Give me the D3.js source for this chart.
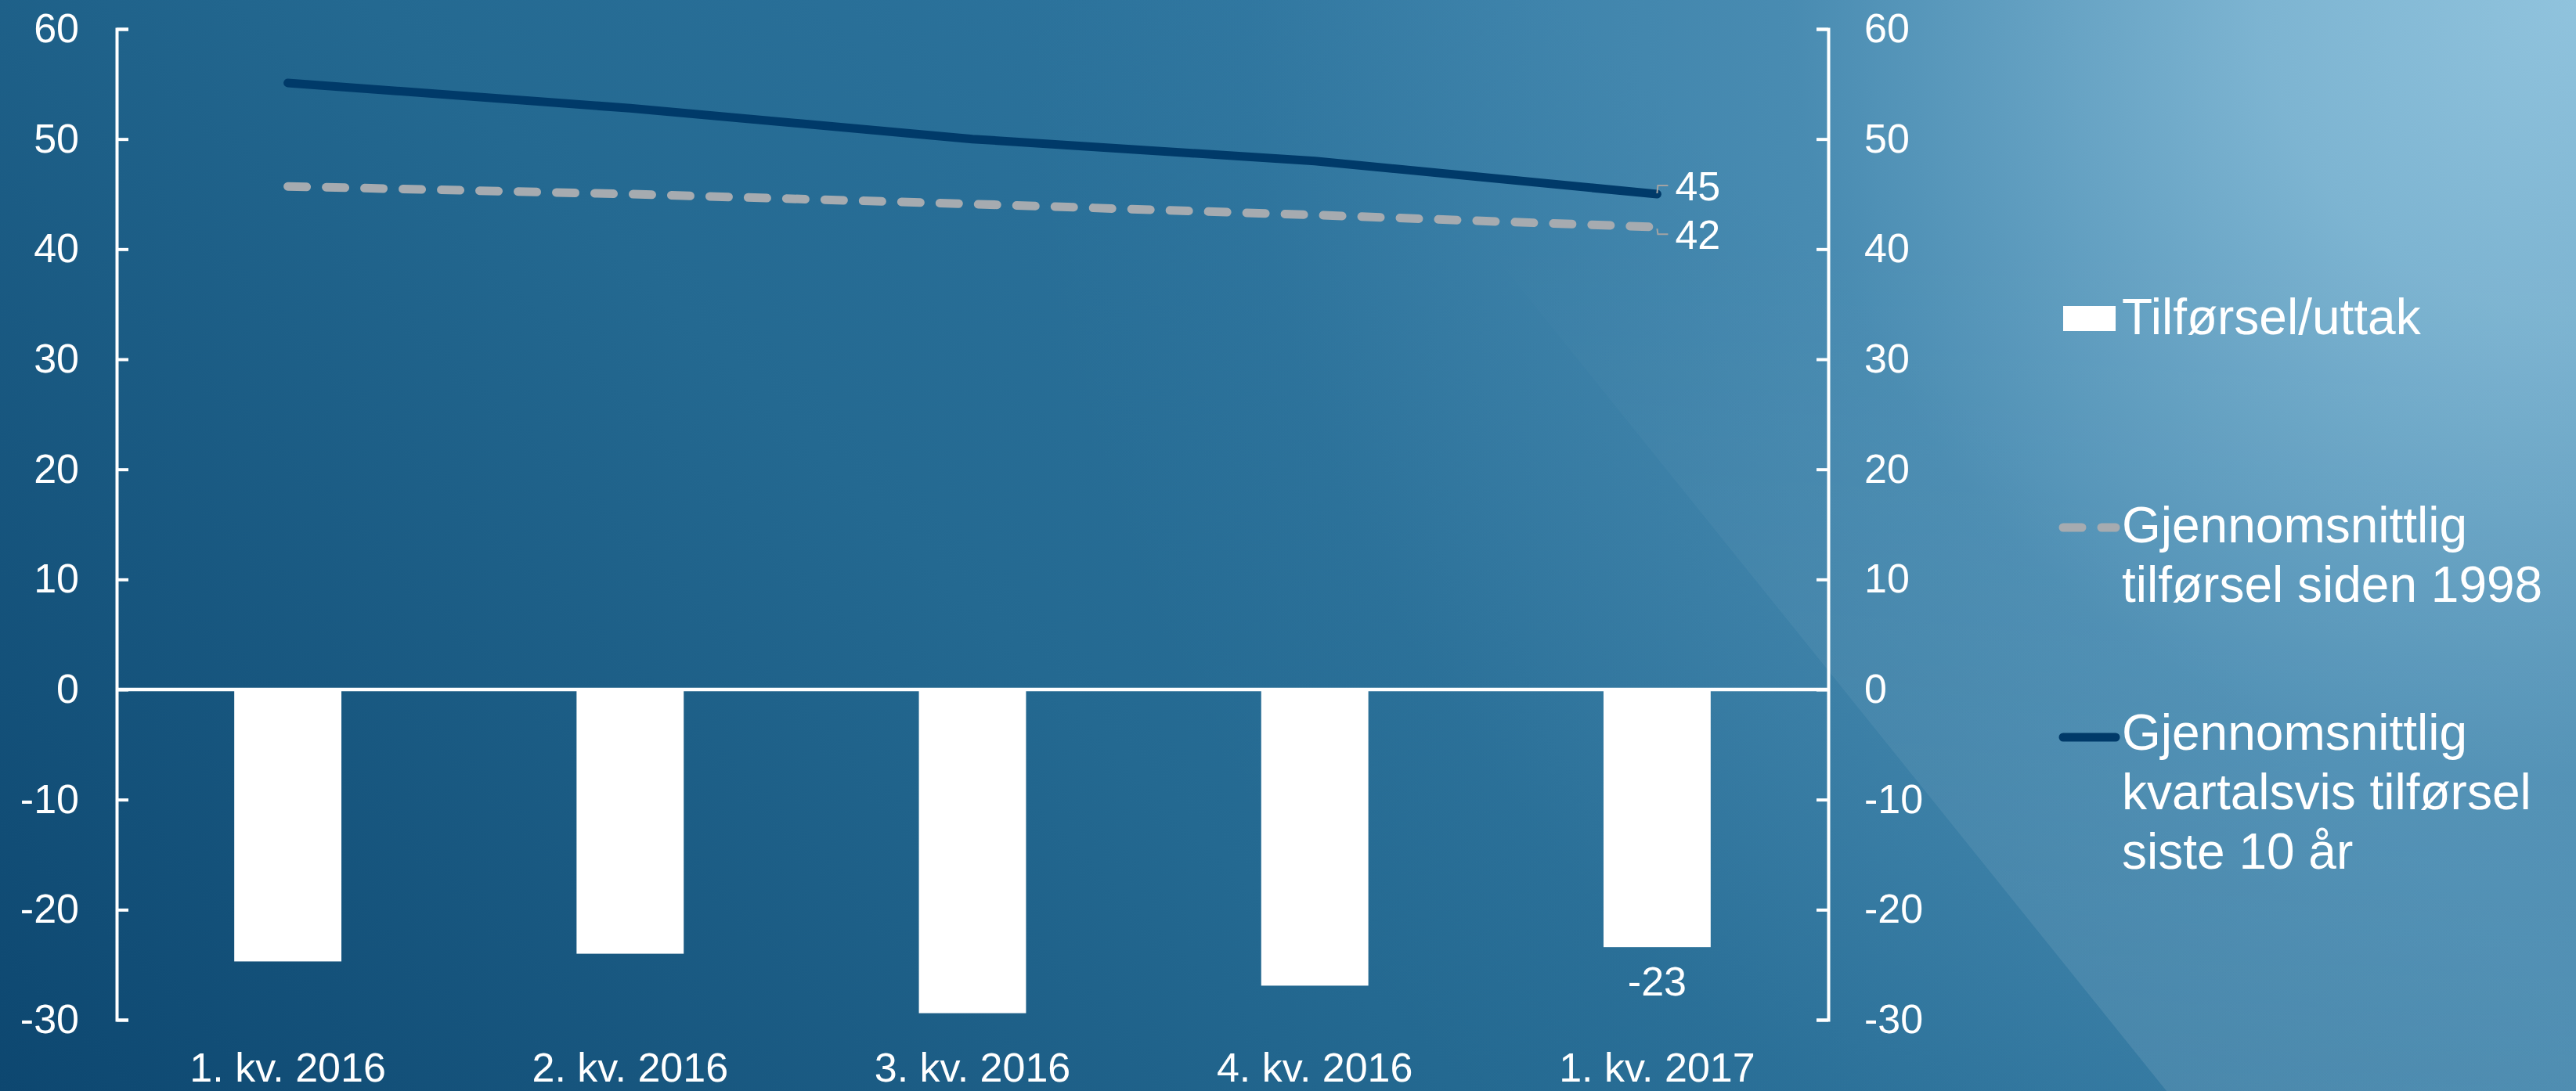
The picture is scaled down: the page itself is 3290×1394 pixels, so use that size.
<!DOCTYPE html>
<html>
<head>
<meta charset="utf-8">
<script src="https://cdn.jsdelivr.net/npm/d3@7"></script>
<style>
  html, body { margin: 0; padding: 0; overflow: hidden; }
  svg { display: block; }
</style>
</head>
<body>
<div id="chart"></div>
<script>
// values
const quarters = ["1. kv. 2016", "2. kv. 2016", "3. kv. 2016", "4. kv. 2016", "1. kv. 2017"];
const flow = [-24.7, -24.0, -29.4, -26.9, -23.4];
const avgSince1998 = [45.7, 45.0, 44.1, 43.1, 42.0];
const avgLast10y = [55.1, 52.8, 50.0, 48.0, 45.0];
const yTicks = [-30, -20, -10, 0, 10, 20, 30, 40, 50, 60];
const legendLabels = [
  ["Tilførsel/uttak"],
  ["Gjennomsnittlig", "tilførsel siden 1998"],
  ["Gjennomsnittlig", "kvartalsvis tilførsel", "siste 10 år"]
];

const width = 3290, height = 1394;
const plot = {left: 149, right: 2335, top: 37, bottom: 1303};
const font = "'Liberation Sans', Arial, sans-serif";
const darkBlue = "#003a69";
const grey = "#a6abb0";

// plain hyphen for negatives, like the original
const fmt = d => String(Math.round(d));

const svg = d3.select("#chart").append("svg")
    .attr("width", width)
    .attr("height", height);

// background
const defs = svg.append("defs");

const base = defs.append("linearGradient")
    .attr("id", "bg")
    .attr("gradientUnits", "userSpaceOnUse")
    .attr("x1", 150).attr("y1", 1550)
    .attr("x2", 1850).attr("y2", -150);
base.append("stop").attr("offset", 0).attr("stop-color", "#0d4770");
base.append("stop").attr("offset", 0.55).attr("stop-color", "#246991");
base.append("stop").attr("offset", 1).attr("stop-color", "#3179a3");

const glow = defs.append("radialGradient")
    .attr("id", "glow")
    .attr("gradientUnits", "userSpaceOnUse")
    .attr("cx", width).attr("cy", 0).attr("r", 2000);
[[0, 1], [0.2, 0.8], [0.5, 0.25], [0.85, 0.03], [1, 0]].forEach(([o, a]) =>
  glow.append("stop").attr("offset", o).attr("stop-color", "#90c3dd").attr("stop-opacity", a));

const sheen = defs.append("linearGradient")
    .attr("id", "sheen")
    .attr("gradientUnits", "userSpaceOnUse")
    .attr("x1", 0).attr("y1", 300)
    .attr("x2", 0).attr("y2", height);
sheen.append("stop").attr("offset", 0).attr("stop-color", "#fff").attr("stop-opacity", 0);
sheen.append("stop").attr("offset", 1).attr("stop-color", "#fff").attr("stop-opacity", 0.1);

svg.append("rect").attr("width", width).attr("height", height).attr("fill", "url(#bg)");
svg.append("rect").attr("width", width).attr("height", height).attr("fill", "url(#glow)");
svg.append("polygon")
    .attr("points", [[1646, 0], [width, 0], [width, height], [2767, height]].join(" "))
    .attr("fill", "url(#sheen)");

// scales
const x = d3.scaleBand()
    .domain(quarters)
    .range([plot.left, plot.right])
    .paddingInner(0.687)
    .paddingOuter(0.3435);

const y = d3.scaleLinear()
    .domain([-30, 60])
    .range([plot.bottom, plot.top]);

const cx = q => x(q) + x.bandwidth() / 2;

// axes
function styleAxis(g) {
  g.attr("color", "#fff")
    .attr("font-size", 52)
    .attr("font-family", font);
  g.selectAll("path, line").attr("stroke-width", 4);
}

svg.append("g")
    .attr("transform", `translate(${plot.left},0)`)
    .call(d3.axisLeft(y).tickValues(yTicks).tickFormat(fmt).tickSize(-15).tickPadding(48))
    .call(styleAxis);

svg.append("g")
    .attr("transform", `translate(${plot.right},0)`)
    .call(d3.axisRight(y).tickValues(yTicks).tickFormat(fmt).tickSize(-15).tickPadding(46))
    .call(styleAxis);

svg.append("g")
    .attr("transform", `translate(0,${plot.bottom})`)
    .call(d3.axisBottom(x).tickSize(0).tickPadding(42))
    .call(styleAxis)
    .call(g => g.select(".domain").remove());

// bars
svg.append("g")
  .selectAll("rect")
  .data(flow)
  .join("rect")
    .attr("x", (d, i) => x(quarters[i]))
    .attr("y", d => y(Math.max(0, d)))
    .attr("width", x.bandwidth())
    .attr("height", d => Math.abs(y(d) - y(0)))
    .attr("fill", "#fff");

// zero line
svg.append("line")
    .attr("x1", plot.left).attr("x2", plot.right)
    .attr("y1", y(0)).attr("y2", y(0))
    .attr("stroke", "#fff")
    .attr("stroke-width", 4.5);

// lines
const line = d3.line()
    .x((d, i) => cx(quarters[i]))
    .y(d => y(d));

svg.append("path")
    .datum(avgSince1998)
    .attr("d", line)
    .attr("fill", "none")
    .attr("stroke", grey)
    .attr("stroke-width", 11)
    .attr("stroke-linecap", "round")
    .attr("stroke-dasharray", "24,25");

svg.append("path")
    .datum(avgLast10y)
    .attr("d", line)
    .attr("fill", "none")
    .attr("stroke", darkBlue)
    .attr("stroke-width", 11)
    .attr("stroke-linecap", "round")
    .attr("stroke-linejoin", "round");

// data labels on the last quarter
const last = quarters.length - 1;
const px = cx(quarters[last]);

const endLabels = [
  {v: avgLast10y[last], dy: 8, from: -1},
  {v: avgSince1998[last], dy: 28, from: 2}
];

endLabels.forEach(l => {
  const b = y(l.v) + l.dy;
  svg.append("path")
      .attr("d", `M${px},${y(l.v) + l.from}L${px + 1},${b - 19}L${px + 14},${b - 19}`)
      .attr("fill", "none")
      .attr("stroke", "#a3a3a3")
      .attr("stroke-width", 2);
  svg.append("text")
      .attr("x", px + 23)
      .attr("y", b)
      .attr("fill", "#fff")
      .attr("font-family", font)
      .attr("font-size", 52)
      .text(fmt(l.v));
});

svg.append("text")
    .attr("x", px)
    .attr("y", y(flow[last]) + 62)
    .attr("text-anchor", "middle")
    .attr("fill", "#fff")
    .attr("font-family", font)
    .attr("font-size", 52)
    .text(fmt(flow[last]));

// legend
const legend = svg.append("g")
    .attr("font-family", font)
    .attr("font-size", 64)
    .attr("fill", "#fff");

const keyX = 2635, keyW = 67, textX = 2710, lineGap = 76;
const keyY = [407, 674, 942];
const firstBase = [427, 693, 958];

legend.append("rect")
    .attr("x", keyX).attr("y", keyY[0] - 16)
    .attr("width", keyW).attr("height", 32)
    .attr("fill", "#fff");

legend.append("line")
    .attr("x1", keyX).attr("x2", keyX + keyW)
    .attr("y1", keyY[1]).attr("y2", keyY[1])
    .attr("stroke", grey)
    .attr("stroke-width", 11)
    .attr("stroke-linecap", "round")
    .attr("stroke-dasharray", "24,25");

legend.append("line")
    .attr("x1", keyX).attr("x2", keyX + keyW)
    .attr("y1", keyY[2]).attr("y2", keyY[2])
    .attr("stroke", darkBlue)
    .attr("stroke-width", 11)
    .attr("stroke-linecap", "round");

legendLabels.forEach((lines, i) => {
  const t = legend.append("text")
      .attr("x", textX)
      .attr("y", firstBase[i]);
  lines.forEach((s, j) => {
    t.append("tspan")
        .attr("x", textX)
        .attr("y", firstBase[i] + j * lineGap)
        .text(s);
  });
});
</script>
</body>
</html>
